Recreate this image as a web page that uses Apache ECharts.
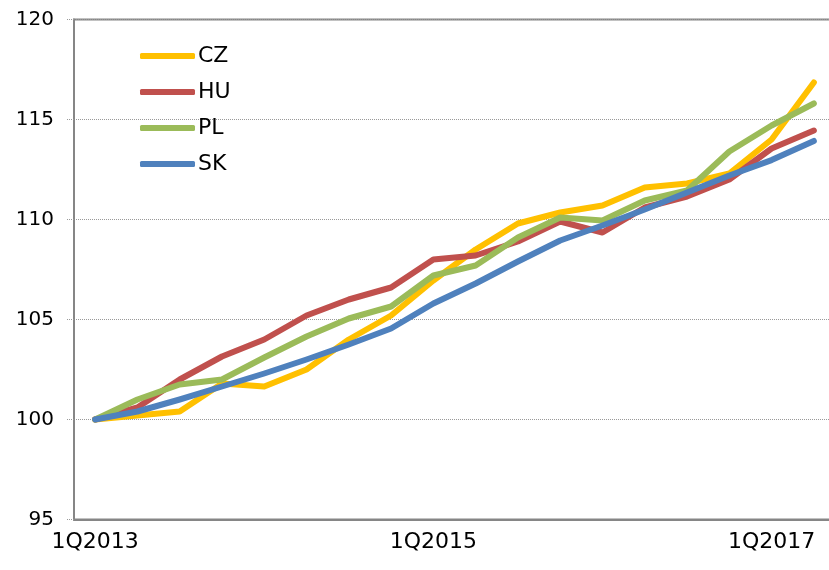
<!DOCTYPE html>
<html>
<head>
<meta charset="utf-8">
<script src="https://cdn.jsdelivr.net/npm/echarts@6/dist/echarts.min.js"></script>
<style>
  html, body { margin: 0; padding: 0; background: #fff; }
  #chart { width: 829px; height: 570px; }
</style>
</head>
<body>
<div id="chart"></div>
<script>
var quarters = ['1Q2013', '2Q2013', '3Q2013', '4Q2013',
                '1Q2014', '2Q2014', '3Q2014', '4Q2014',
                '1Q2015', '2Q2015', '3Q2015', '4Q2015',
                '1Q2016', '2Q2016', '3Q2016', '4Q2016',
                '1Q2017', '2Q2017'];
var cz = [100, 100.2, 100.4, 101.8, 101.65, 102.5, 104.0, 105.2, 106.95, 108.5, 109.8, 110.35, 110.7, 111.6, 111.8, 112.3, 114.0, 116.85];
var hu = [100, 100.6, 102.0, 103.15, 104.0, 105.2, 106.0, 106.6, 108.0, 108.2, 108.9, 109.9, 109.35, 110.6, 111.15, 112.0, 113.55, 114.45];
var pl = [100, 101.0, 101.75, 102.0, 103.1, 104.15, 105.05, 105.65, 107.2, 107.7, 109.1, 110.1, 109.95, 110.95, 111.45, 113.4, 114.7, 115.8];
var sk = [100, 100.4, 101.0, 101.65, 102.3, 103.0, 103.75, 104.55, 105.8, 106.8, 107.9, 108.95, 109.7, 110.5, 111.35, 112.2, 112.97, 113.93];

var font = 'Tahoma, "DejaVu Sans", sans-serif';

function line(name, data, color) {
    return {
        name: name,
        type: 'line',
        data: data,
        symbol: 'none',
        animation: false,
        lineStyle: { color: color, width: 6, cap: 'round', join: 'round' },
        itemStyle: { color: color }
    };
}

var chart = echarts.init(document.getElementById('chart'));
chart.setOption({
    animation: false,
    grid: {
        left: 74, right: -6, top: 19.5, bottom: 50.5,
        outerBoundsMode: 'none',
        containLabel: false,
        show: true, borderColor: '#868686', borderWidth: 2
    },
    legend: {
        orient: 'vertical',
        left: 140, top: 45, padding: 0,
        icon: 'roundRect',
        itemWidth: 55, itemHeight: 6, itemGap: 14,
        textStyle: { fontFamily: font, fontSize: 22, color: '#000', lineHeight: 22, padding: [0, 0, 0, -2] },
        data: ['CZ', 'HU', 'PL', 'SK']
    },
    xAxis: {
        type: 'category',
        data: quarters,
        boundaryGap: true,
        axisLine: { lineStyle: { color: '#868686', width: 2 } },
        axisTick: { length: 6, lineStyle: { color: '#868686', width: 1.5 } },
        axisLabel: { interval: 7, margin: 12, fontFamily: font, fontSize: 22, color: '#000' },
        splitLine: { show: false }
    },
    yAxis: {
        type: 'value',
        min: 95, max: 120, interval: 5,
        axisLine: { show: true, lineStyle: { color: '#868686', width: 2 } },
        axisTick: { show: true, length: 8, lineStyle: { color: '#999', type: 'dotted' } },
        axisLabel: { margin: 20, fontFamily: font, fontSize: 20, color: '#000' },
        splitLine: { lineStyle: { color: '#999', type: 'dotted', width: 1 } }
    },
    series: [
        line('CZ', cz, '#FFC000'),
        line('HU', hu, '#C0504D'),
        line('PL', pl, '#9BBB59'),
        line('SK', sk, '#4F81BD')
    ]
});
</script>
</body>
</html>
